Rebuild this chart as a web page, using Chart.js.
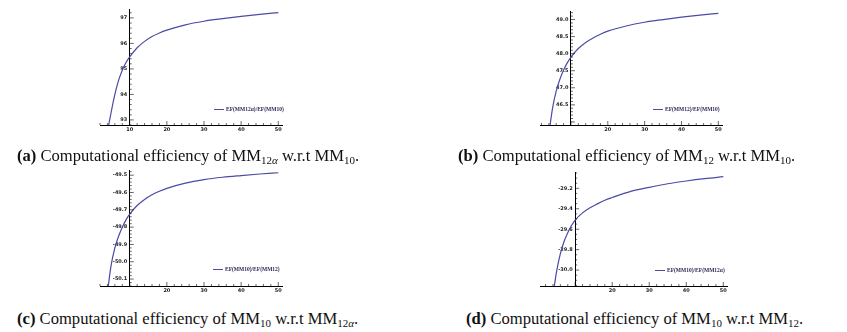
<!DOCTYPE html>
<html>
<head>
<meta charset="utf-8">
<script src="https://cdn.jsdelivr.net/npm/chart.js@4.4.0/dist/chart.umd.min.js"></script>
<style>
body { margin:0; background:#fff; width:847px; height:332px; position:relative; overflow:hidden; }
.panel { position:absolute; }
.panel canvas { position:absolute; left:0; top:0; }
.legend { position:absolute; height:6px; line-height:6px; font: bold 5.5px "Liberation Serif", serif; color:#2a2a55; white-space:nowrap; display:flex; align-items:center; }
.legend i { display:inline-block; width:10px; height:0; border-top:1.2px solid #4b4ba6; margin-right:2px; }
.caption { position:absolute; font: 16.6px "Liberation Serif", "Times New Roman", serif; line-height:18px; white-space:nowrap; color:#111; }
.caption sub { font-size:11px; vertical-align:-3px; line-height:0; }
</style>
</head>
<body>

<div class="panel" style="left:0;top:0;width:420px;height:140px"><canvas id="chartA" width="420" height="140"></canvas></div>
<div class="panel" style="left:420px;top:0;width:427px;height:140px"><canvas id="chartB" width="427" height="140"></canvas></div>
<div class="panel" style="left:0;top:160px;width:420px;height:140px"><canvas id="chartC" width="420" height="140"></canvas></div>
<div class="panel" style="left:420px;top:160px;width:427px;height:140px"><canvas id="chartD" width="427" height="140"></canvas></div>

<div class="legend" style="left:214px;top:106px"><i></i>EF(MM12α)/EF(MM10)</div>
<div class="legend" style="left:653px;top:106px"><i></i>EF(MM12)/EF(MM10)</div>
<div class="legend" style="left:213px;top:266px"><i></i>EF(MM10)/EF(MM12)</div>
<div class="legend" style="left:655px;top:267px"><i></i>EF(MM10)/EF(MM12α)</div>

<div class="caption" style="left:17px;top:147px"><b>(a)</b> Computational efficiency of MM<sub>12<i>α</i></sub> w.r.t MM<sub>10</sub>.</div>
<div class="caption" style="left:458px;top:147px"><b>(b)</b> Computational efficiency of MM<sub>12</sub> w.r.t MM<sub>10</sub>.</div>
<div class="caption" style="left:17px;top:310px"><b>(c)</b> Computational efficiency of MM<sub>10</sub> w.r.t MM<sub>12<i>α</i></sub>.</div>
<div class="caption" style="left:466px;top:310px"><b>(d)</b> Computational efficiency of MM<sub>10</sub> w.r.t MM<sub>12</sub>.</div>

<script>
// 数据
const xA = [4.2, 5, 6, 7, 8, 9, 10, 12, 14, 16, 18, 20, 25, 30, 35, 40, 45, 50];
const yA = [92.7, 93.3, 94.0, 94.55, 94.95, 95.25, 95.47, 95.83, 96.08, 96.27, 96.41, 96.52, 96.73, 96.87, 96.97, 97.06, 97.14, 97.21];

const xB = [4.2, 5, 6, 7, 8, 9, 10, 12, 14, 16, 18, 20, 25, 30, 35, 40, 45, 50];
const yB = [45.8, 46.4, 46.9, 47.25, 47.52, 47.73, 47.9, 48.15, 48.33, 48.46, 48.57, 48.66, 48.81, 48.92, 49.0, 49.07, 49.13, 49.18];

const xC = [4.1, 5, 6, 7, 8, 9, 10, 12, 14, 16, 18, 20, 25, 30, 35, 40, 45, 50];
const yC = [-50.16, -50.02, -49.92, -49.853, -49.8, -49.758, -49.725, -49.675, -49.64, -49.613, -49.593, -49.576, -49.546, -49.526, -49.512, -49.502, -49.493, -49.486];

const xD = [4.3, 5, 6, 7, 8, 9, 10, 12, 14, 16, 18, 20, 25, 30, 35, 40, 45, 50];
const yD = [-30.17, -30.01, -29.84, -29.72, -29.634, -29.564, -29.51, -29.44, -29.39, -29.352, -29.317, -29.29, -29.23, -29.19, -29.155, -29.128, -29.105, -29.086];

// 刻度标签
const xLabelsA = ['10', '20', '30', '40', '50'];
const xLabelsB = ['20', '30', '40', '50'];
const xLabelsC = ['20', '30', '40', '50'];
const xLabelsD = ['20', '30', '40', '50'];
const yLabelsA = ['97', '96', '95', '94', '93'];
const yLabelsB = ['49.0', '48.5', '48.0', '47.5', '47.0', '46.5'];
const yLabelsC = ['-49.5', '-49.6', '-49.7', '-49.8', '-49.9', '-50.0', '-50.1'];
const yLabelsD = ['-29.2', '-29.4', '-29.6', '-29.8', '-30.0'];

const LINE_COLOR = '#4b4ba6';
const TICK_FONT = { family: 'DejaVu Sans', size: 5, weight: 'bold' };

// Mathematica 风格的内向刻度线 (主刻度 + 次刻度)
const axisTicks = {
    id: 'axisTicks',
    afterDraw(chart, args, opts) {
        const { ctx, chartArea } = chart;
        const xs = chart.scales.x, ys = chart.scales.y;
        const x0 = xs.getPixelForValue(opts.yAxisAt);
        ctx.save();
        ctx.strokeStyle = '#000';
        ctx.lineWidth = 0.6;
        ctx.beginPath();
        const drawSet = (min, max, minor, major, fn) => {
            for (let k = Math.ceil(min / minor - 1e-9); k * minor <= max + 1e-9; k++) {
                const v = k * minor;
                const r = v / major;
                const isMajor = Math.abs(r - Math.round(r)) < 1e-6;
                fn(v, isMajor ? 4 : 2);
            }
        };
        drawSet(xs.min, xs.max, opts.xMinor, opts.xMajor, (v, len) => {
            const px = xs.getPixelForValue(v);
            ctx.moveTo(px, chartArea.bottom);
            ctx.lineTo(px, chartArea.bottom - len);
        });
        drawSet(ys.min, ys.max, opts.yMinor, opts.yMajor, (v, len) => {
            const py = ys.getPixelForValue(v);
            ctx.moveTo(x0, py);
            ctx.lineTo(x0 + len, py);
        });
        ctx.stroke();
        ctx.restore();
    }
};

function makeChart(id, xs, ys, xLabels, yLabels, cfg) {
    const points = xs.map((x, i) => ({ x: x, y: ys[i] }));
    return new Chart(document.getElementById(id), {
        type: 'line',
        data: {
            datasets: [{
                data: points,
                borderColor: LINE_COLOR,
                borderWidth: 1.2,
                pointRadius: 0,
                cubicInterpolationMode: 'monotone',
                fill: false
            }]
        },
        options: {
            responsive: false,
            animation: false,
            events: [],
            layout: { padding: cfg.padding },
            plugins: {
                legend: { display: false },
                tooltip: { enabled: false },
                axisTicks: cfg.ticks
            },
            scales: {
                x: {
                    type: 'linear',
                    position: 'bottom',
                    min: cfg.xMin,
                    max: cfg.xMax,
                    grid: { display: false, drawTicks: false },
                    border: { display: true, color: '#000', width: 1 },
                    afterBuildTicks: s => { s.ticks = xLabels.map(l => ({ value: parseFloat(l) })); },
                    afterFit: s => { s.height = 12; },
                    ticks: {
                        autoSkip: false,
                        maxRotation: 0,
                        padding: 2,
                        color: '#222',
                        font: TICK_FONT,
                        callback: (v, i) => xLabels[i]
                    }
                },
                y: {
                    type: 'linear',
                    position: { x: cfg.ticks.yAxisAt },
                    min: cfg.yMin,
                    max: cfg.yMax,
                    grid: { display: false, drawTicks: false },
                    border: { display: true, color: '#000', width: 1 },
                    afterBuildTicks: s => { s.ticks = yLabels.map(l => ({ value: parseFloat(l) })); },
                    ticks: {
                        autoSkip: false,
                        color: '#222',
                        font: TICK_FONT,
                        callback: (v, i) => yLabels[i] + '\u2002'
                    }
                }
            }
        },
        plugins: [axisTicks]
    });
}

makeChart('chartA', xA, yA, xLabelsA, yLabelsA, {
    padding: { left: 100, right: 138, top: 9, bottom: 3 },
    xMin: 2, xMax: 51, yMin: 92.8, yMax: 97.35,
    ticks: { yAxisAt: 10, xMinor: 2, xMajor: 10, yMinor: 0.2, yMajor: 1 }
});
makeChart('chartB', xB, yB, xLabelsB, yLabelsB, {
    padding: { left: 120, right: 125, top: 11, bottom: 3 },
    xMin: 1.6, xMax: 51, yMin: 45.91, yMax: 49.25,
    ticks: { yAxisAt: 10, xMinor: 2, xMajor: 10, yMinor: 0.1, yMajor: 0.5 }
});
makeChart('chartC', xC, yC, xLabelsC, yLabelsC, {
    padding: { left: 100, right: 138, top: 10, bottom: 2 },
    xMin: 2, xMax: 51, yMin: -50.14, yMax: -49.47,
    ticks: { yAxisAt: 10, xMinor: 2, xMajor: 10, yMinor: 0.02, yMajor: 0.1 }
});
makeChart('chartD', xD, yD, xLabelsD, yLabelsD, {
    padding: { left: 120, right: 120, top: 12, bottom: 2 },
    xMin: 0.5, xMax: 51, yMin: -30.156, yMax: -29.04,
    ticks: { yAxisAt: 10, xMinor: 2, xMajor: 10, yMinor: 0.05, yMajor: 0.2 }
});
</script>
</body>
</html>
